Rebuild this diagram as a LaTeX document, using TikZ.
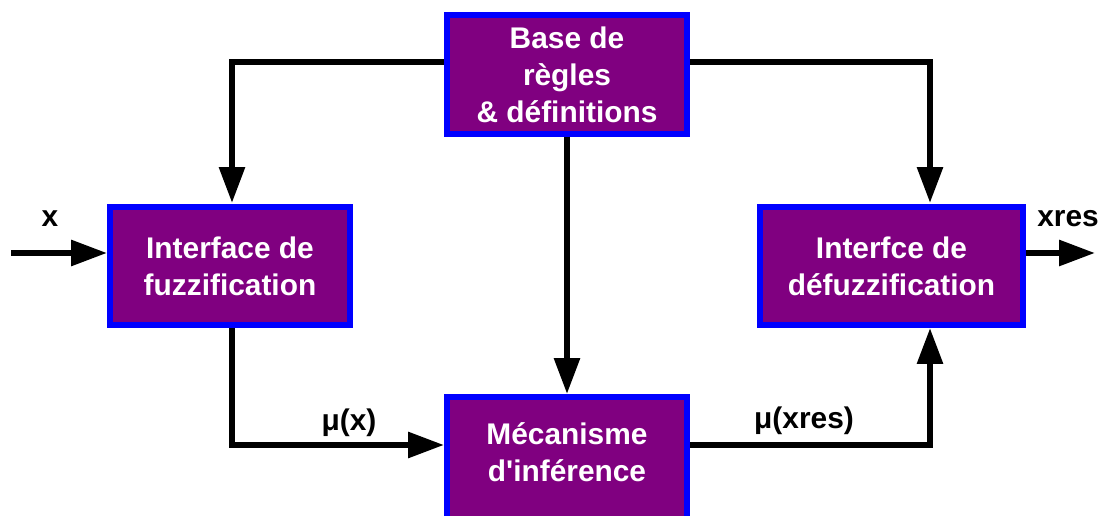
\documentclass[tikz,border=0pt]{standalone}
\usepackage{fontspec}
\setmainfont{Liberation Sans}
\usetikzlibrary{arrows.meta}
\definecolor{boxfill}{HTML}{800080}
\definecolor{boxline}{HTML}{0000FF}
\begin{document}
\begin{tikzpicture}[x=0.02cm,y=-0.02cm,
  txt/.style={font=\bfseries\fontsize{17}{21}\selectfont},
  block/.style={draw=boxline, fill=boxfill, line width=0.12cm, text=white, txt,
    align=center, inner sep=0pt, minimum width=4.8cm, minimum height=2.37cm},
  wire/.style={line width=0.12cm},
  flow/.style={wire, -{Triangle[length=0.72cm,width=0.5cm]}},
  lab/.style={txt, inner sep=0pt, anchor=base}]
\useasboundingbox (0,0) rectangle (1102,516);
\clip (0,0) rectangle (1102,516);

% blocks
\node[block] (base) at (567,74.5) {Base de\\règles\\\& définitions};
\node[block] (fuz) at (230,266) {Interface de\\fuzzification};
\node[block, minimum width=5.26cm] (defuz) at (891.5,266) {Interfce de\\défuzzification};
\node[block, minimum height=2.8cm] (mec) at (567,467) {};
\node[txt, text=white, align=center, inner sep=0pt] (mectxt) at (567,452)
  {Mécanisme\\d\textquotesingle inférence};

% routing points
\coordinate (bl) at (232,62);
\coordinate (br) at (930,62);
\coordinate (fuzdown) at (232,328);
\coordinate (fuzbend) at (232,445);
\coordinate (mecout) at (690,445);
\coordinate (defbend) at (930,445);
\coordinate (defin) at (930,328);
\coordinate (defup) at (930,203);
\coordinate (fuzup) at (232,203);
\coordinate (xin) at (11,253);
\coordinate (xout) at (1095,253);

% connectors
\draw[flow] (base.west |- bl) -- (bl) -- (fuzup);
\draw[flow] (base.east |- br) -- (br) -- (defup);
\draw[flow] (base.south) -- (mec.north);
\draw[flow] (fuzdown) -- (fuzbend) -- (mec.west |- fuzbend);
\draw[flow] (mecout) -- (defbend) -- (defin);
\draw[flow] (xin) -- (fuz.west |- xin);
\draw[flow] (defuz.east |- xout) -- (xout);

% labels
\node[lab] (lx) at (50,227) {x};
\node[lab] (lxres) at (1068,227) {xres};
\node[lab] (lmux) at (349,431) {μ(x)};
\node[lab] (lmuxres) at (804,429) {μ(xres)};
\end{tikzpicture}
\end{document}
